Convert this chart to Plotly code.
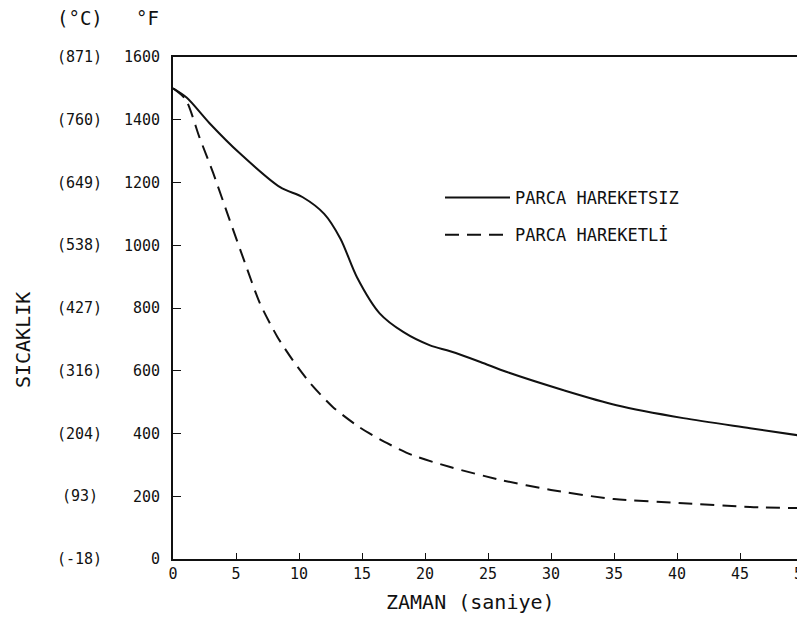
import plotly.graph_objects as go

# Data
time_static = [0, 1.1, 2.9, 5.3, 8.5, 10.3, 12, 13.3, 14.6, 16.4, 18.3, 20.4, 22, 24.4, 26.5, 31, 35.2, 40.5, 45.8, 50]
temp_static = [1500, 1470, 1389, 1293, 1185, 1153, 1100, 1020, 898, 783, 723, 681, 662, 628, 596, 538, 490, 449, 417, 392]

time_moving = [0, 1, 2.1, 3.2, 4.5, 5.7, 6.9, 8.3, 9.5, 10.9, 12.7, 14.8, 17, 19, 22, 26, 30, 35, 40.5, 45.8, 50]
temp_moving = [1500, 1465, 1344, 1229, 1080, 945, 815, 707, 634, 560, 484, 420, 369, 331, 293, 252, 220, 191, 178, 166, 162]

x_ticks = [0, 5, 10, 15, 20, 25, 30, 35, 40, 45, 50]
y_ticks_f = [0, 200, 400, 600, 800, 1000, 1200, 1400, 1600]
y_ticks_c = ["(-18)", "(93)", "(204)", "(316)", "(427)", "(538)", "(649)", "(760)", "(871)"]

series_names = ["PARCA HAREKETSIZ", "PARCA HAREKETLİ"]

FONT = "DejaVu Sans Mono"
INK = "#111111"

# page body adds an 8px offset; plot area target: x 173..803, y 57..559
fig = go.Figure()
fig.add_trace(go.Scatter(
    x=time_static, y=temp_static, mode="lines", name=series_names[0],
    line=dict(color=INK, width=2, shape="spline", smoothing=0.8),
    legendgroup="a",
))
fig.add_trace(go.Scatter(
    x=time_moving, y=temp_moving, mode="lines", name=series_names[1],
    line=dict(color=INK, width=2, dash="14px,8px", shape="spline", smoothing=0.7),
    legendgroup="b",
))

# Celsius labels to the left of the Fahrenheit tick labels
for f, c in zip(y_ticks_f, y_ticks_c):
    fig.add_annotation(x=-0.148, xref="paper", y=f, yref="y", text=c,
                       showarrow=False, xanchor="center", yanchor="middle",
                       font=dict(family=FONT, size=15, color=INK))

# Unit header
fig.add_annotation(x=-0.148, xref="paper", y=1.0 + (57 - 18) / 502, yref="paper",
                   text="(°C)", showarrow=False, xanchor="center", yanchor="middle",
                   font=dict(family=FONT, size=19, color=INK))
fig.add_annotation(x=-0.04, xref="paper", y=1.0 + (57 - 18) / 502, yref="paper",
                   text="°F", showarrow=False, xanchor="center", yanchor="middle",
                   font=dict(family=FONT, size=19, color=INK))

# Axis titles
fig.add_annotation(x=-0.238, xref="paper", y=(559 - 340) / 502, yref="paper",
                   text="SICAKLIK", textangle=-90, showarrow=False,
                   xanchor="center", yanchor="middle",
                   font=dict(family=FONT, size=20, color=INK))
fig.add_annotation(x=(470 - 173) / 630, xref="paper", y=-(602 - 559) / 502, yref="paper",
                   text="ZAMAN (saniye)", showarrow=False,
                   xanchor="center", yanchor="middle",
                   font=dict(family=FONT, size=20, color=INK))

fig.update_layout(
    width=797, height=617,
    margin=dict(l=165, r=2, t=49, b=66, autoexpand=False),
    paper_bgcolor="white", plot_bgcolor="white",
    font=dict(family=FONT, size=15, color=INK),
    showlegend=True,
    legend=dict(x=(440 - 173) / 630, y=(559 - 180) / 502, xanchor="left", yanchor="top",
                bgcolor="rgba(0,0,0,0)", itemwidth=65, tracegroupgap=12,
                font=dict(family=FONT, size=17, color=INK)),
    xaxis=dict(range=[0, 50], tickvals=x_ticks, ticks="inside", ticklen=6,
               tickcolor=INK, showgrid=False, zeroline=False, automargin=False,
               ticklabeloverflow="allow",
               showline=True, linecolor=INK, linewidth=2, mirror=True,
               tickfont=dict(family=FONT, size=15, color=INK)),
    yaxis=dict(range=[0, 1600], tickvals=y_ticks_f, ticks="inside", ticklen=8,
               tickcolor=INK, showgrid=False, zeroline=False, automargin=False,
               showline=True, linecolor=INK, linewidth=2, mirror=True,
               ticklabelstandoff=8,
               tickfont=dict(family=FONT, size=15, color=INK)),
)

fig.write_html("out.html")
